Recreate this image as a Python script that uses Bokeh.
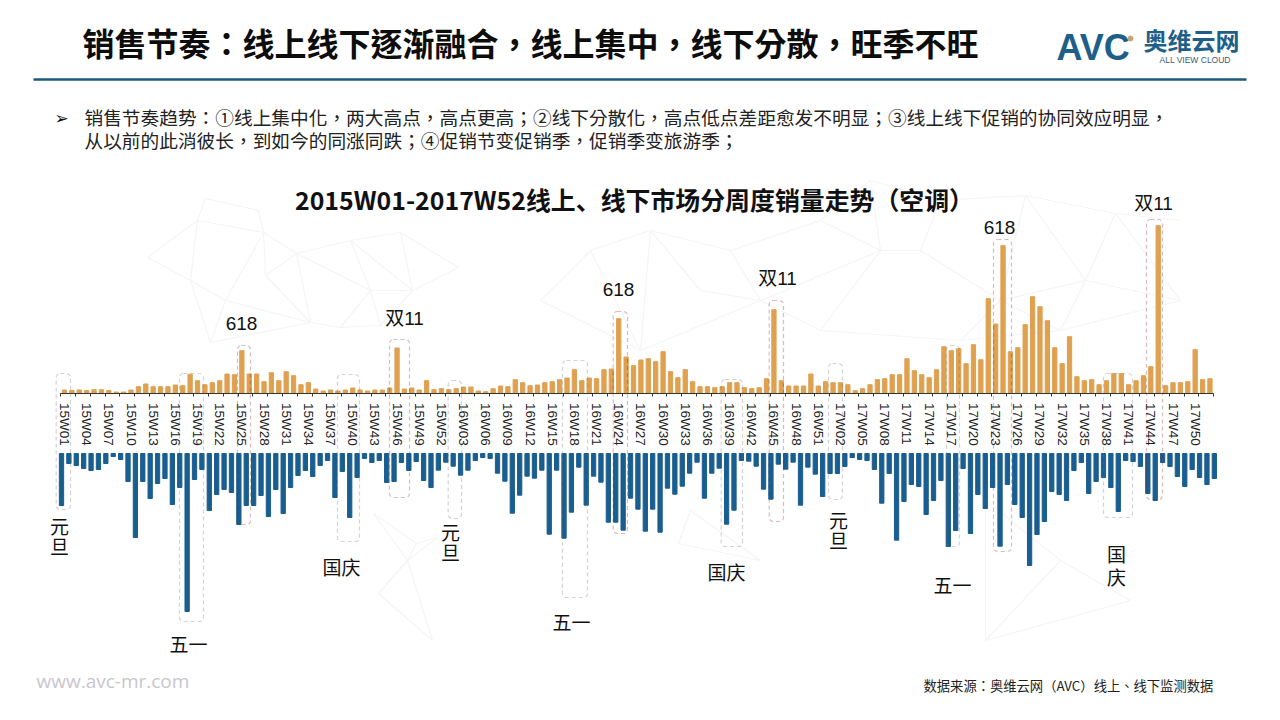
import math
from bokeh.core.properties import value
from bokeh.embed import file_html
from bokeh.models import BoxAnnotation, FixedTicker, LinearAxis, Range1d
from bokeh.plotting import figure
from bokeh.resources import INLINE

# week labels shown on the axis (every third week)
years = ["15", "16", "17"]
weeks = [f"{y}W{w:02d}" for y in years for w in range(1, 53)]

online_sales = [
    3, 2.5, 3, 2.5, 3.3, 3.3, 2.5, 1, 1, 3, 6.3, 9, 6.3, 6.3, 6.3, 8, 7.3, 18.7, 12.3, 8.3,
    10.3, 12.3, 19, 18.3, 42.3, 19, 19, 11.3, 20.3, 12.3, 21.3, 17.3, 8.3, 10.3, 4, 2, 3, 2, 3, 5,
    3, 2, 3, 3, 5, 45, 4, 5, 3, 12.3, 3.3, 4.3, 3.3, 4.3, 6, 6, 2, 1.3, 4.3, 7,
    6.3, 13.3, 10.3, 7.3, 8, 10.3, 11.3, 13.3, 15, 23.3, 12.3, 15, 14.3, 23.3, 24, 74.3, 36, 27.3, 33, 34.3,
    31.3, 41.3, 21.3, 15.3, 23.3, 11.3, 6.3, 6.3, 5.3, 6.3, 10.3, 10.3, 5.3, 4.3, 5.3, 14.3, 83.3, 12.3, 7, 7,
    7, 19, 7, 11.3, 10.3, 10.3, 8.3, 2.3, 4.3, 8.3, 13.3, 14.3, 18.3, 18.3, 34.3, 22.3, 18.3, 15.3, 23.3, 46.3,
    42.3, 44.3, 29.3, 48.3, 33.3, 94.3, 69, 147.3, 41.3, 45.3, 68.3, 96.3, 86.3, 72.3, 45.3, 29.3, 56.3, 16.3, 12.3, 13.3,
    8.3, 12.3, 19.3, 19.3, 8.3, 12.3, 17.3, 26.3, 167.3, 7.3, 10.3, 10.3, 11.3, 43.3, 13.3, 14.3,
]
offline_sales = [
    52, 10, 12, 15, 17, 16, 10, 3, 6, 28, 84, 28, 45, 30, 25, 51, 34, 158, 26, 16,
    57, 41, 36, 39, 71, 52, 52, 42, 63, 36, 60, 34, 22, 17, 23, 12, 7, 44, 18, 64,
    24, 5, 9, 7, 29, 28, 9, 17, 8, 27, 34, 16.7, 8.7, 12.7, 21.7, 16.7, 7, 4, 5, 19.7,
    27.7, 59.7, 41.7, 22.7, 24.7, 16.7, 80.7, 16.7, 84.7, 58.7, 13.7, 51.7, 22.7, 28.7, 68.7, 68.7, 76.7, 44.7, 55.7, 77.7,
    55.7, 78.7, 34.7, 40.7, 32.7, 19.7, 8.7, 44.7, 19.7, 14.7, 70.7, 56.7, 7, 7.7, 12.7, 35.7, 45.7, 10.7, 15.7, 8.7,
    51.7, 13.7, 20.7, 43, 20, 20, 13, 4, 6, 7, 16, 49.7, 20, 86.7, 48, 31, 33, 61, 47, 27,
    93, 77, 15, 80, 41, 55, 34, 92.7, 31, 51, 64, 112, 81, 68, 38, 41, 47, 17, 9, 40,
    28, 24, 34, 58, 7, 8, 13, 40, 47, 9, 13, 23, 33, 16, 24, 31, 25,
]

slide_title = "销售节奏：线上线下逐渐融合，线上集中，线下分散，旺季不旺"
bullet_1 = "销售节奏趋势：①线上集中化，两大高点，高点更高；②线下分散化，高点低点差距愈发不明显；③线上线下促销的协同效应明显，"
bullet_2 = "从以前的此消彼长，到如今的同涨同跌；④促销节变促销季，促销季变旅游季；"
chart_title = "2015W01-2017W52线上、线下市场分周度销量走势（空调）"
source_note = "数据来源：奥维云网（AVC）线上、线下监测数据"

# event callouts: (text, x, y)
event_labels = [
    ("618", 241, 323), ("双11", 404, 318), ("618", 618, 289), ("双11", 777, 278),
    ("618", 999, 227), ("双11", 1153, 203), ("元", 59, 527), ("旦", 59, 547),
    ("五一", 188, 645), ("国庆", 341, 568), ("元", 450, 533), ("旦", 450, 553),
    ("五一", 571, 623), ("国庆", 726, 573), ("元", 838, 521), ("旦", 838, 541),
    ("五一", 952, 586), ("国", 1116, 555), ("庆", 1116, 578),
]
# dashed highlight frames: (left, right, top, bottom, kind)
event_boxes = [
    (55.7, 70, 373, 509, "g"), (179, 203, 373, 621, "g"), (237, 250, 345, 524, "r"),
    (337, 359, 374, 541, "g"), (389, 409, 339, 497, "r"), (447.7, 461, 380, 518, "g"),
    (562, 587, 360, 597, "g"), (612.7, 627, 311, 533, "r"), (720.7, 742, 379, 546, "g"),
    (768.7, 783, 300, 521, "r"), (828, 842, 363, 499, "g"), (946, 959, 345, 546, "g"),
    (993, 1011, 239, 551, "r"), (1103, 1132, 373, 517, "g"), (1146, 1162, 219, 499, "r"),
]

# faint polygon-network watermark behind the chart
net_nodes = {
    "a": (205, 198), "b": (258, 210), "c": (197, 220), "d": (147, 257), "e": (263, 232), "f": (296, 253),
    "g": (350, 240), "h": (400, 232), "i": (458, 267), "j": (190, 280), "k": (225, 300), "l": (265, 275),
    "m": (310, 322), "n": (340, 327), "o": (380, 325), "p": (412, 290), "q": (210, 342), "r": (370, 290),
    "s": (650, 230), "t": (730, 250), "u": (760, 300), "v": (640, 350), "w": (820, 220), "x": (870, 180),
    "y": (940, 200), "z": (1025, 195), "A": (1115, 213), "B": (1180, 220), "C": (880, 250), "D": (1000, 300),
    "E": (1085, 280), "F": (1060, 330), "G": (820, 330), "H": (920, 250), "I": (960, 340), "J": (1180, 300),
    "K": (373, 513), "L": (416, 543), "M": (378, 593), "N": (407, 560), "O": (437, 537), "P": (432, 640),
    "Q": (678, 543), "R": (690, 510), "S": (760, 560), "T": (985, 500), "U": (1060, 560), "V": (1130, 600),
    "W": (985, 640), "X": (700, 290), "Y": (590, 250), "Z": (540, 300),
}
net_edges = [
    "ab", "ac", "cd", "be", "ce", "ef", "fg", "gh", "hi", "dj", "cj", "jk", "ek", "el", "lf", "fm", "lm", "km",
    "kq", "jq", "qm", "mn", "no", "op", "pi", "hp", "gr", "rp", "fr", "rn", "ro", "gp", "st", "tu", "sX", "Xu",
    "uG", "vu", "sv", "tw", "wx", "xy", "yz", "zA", "AB", "wC", "xC", "yH", "CH", "HD", "zD", "DE", "zE", "EA",
    "EF", "DF", "GC", "GI", "ID", "uC", "IF", "FJ", "EJ", "AJ", "KL", "KN", "LN", "LO", "NM", "NO", "MP", "NP",
    "QR", "RS", "QS", "TU", "UV", "TW", "UW", "WV", "Ys", "YZ", "Zv", "Yv",
]

BAR_ORANGE = "#DFA050"
BAR_BLUE = "#1A5E90"
TITLE_BLUE = "#1E5F8A"
CJK = "Noto Sans CJK SC"
CJK_TC = "Noto Sans CJK TC"
LATIN_CJK = "Liberation Sans, Noto Sans CJK SC"

WIDTH, HEIGHT = 1264, 704
PAD = 0  # the figure's corner sits at the top left of the picture
STEP = 7.39
ON_X0, OFF_X0 = 64.0, 61.0
ON_Y0, OFF_Y0 = 392.5, 453.0

p = figure(
    width=WIDTH, height=HEIGHT, output_backend="svg", toolbar_location=None,
    x_range=Range1d(PAD, PAD + WIDTH), y_range=Range1d(PAD + HEIGHT, PAD),
    min_border=0, min_border_left=0, min_border_right=0, min_border_top=0, min_border_bottom=0,
    x_axis_type=None, y_axis_type=None, outline_line_color=None,
)
p.grid.visible = False
p.background_fill_color = "white"
p.border_fill_color = "white"

p.extra_x_ranges = {
    "on_x": Range1d((PAD - ON_X0) / STEP, (PAD + WIDTH - ON_X0) / STEP),
    "off_x": Range1d((PAD - OFF_X0) / STEP, (PAD + WIDTH - OFF_X0) / STEP),
}
p.extra_y_ranges = {
    "on_y": Range1d(ON_Y0 - PAD - HEIGHT, ON_Y0 - PAD),
    "off_y": Range1d(PAD + HEIGHT - OFF_Y0, PAD - OFF_Y0),
}

# watermark
p.multi_line(
    xs=[[net_nodes[e[0]][0], net_nodes[e[1]][0]] for e in net_edges],
    ys=[[net_nodes[e[0]][1], net_nodes[e[1]][1]] for e in net_edges],
    line_color="#f5f4f6", line_width=1.2, level="underlay",
)


def put(txt, x, y, size, color="#111111", font=CJK, bold=False, align="center"):
    p.text(
        x=[x], y=[y], text=[txt], text_font=value(font), text_font_size=f"{size}px",
        text_color=color, text_align=align, text_baseline="middle",
        text_font_style="bold" if bold else "normal",
    )


# header
put(slide_title, 82, 41, 32, bold=True, align="left", font=CJK_TC, color="#0d0d0d")
p.line(x=[33, 1246], y=[79, 79], line_color="#1C5A7C", line_width=2.6)

# logo
put("AVC", 1056, 47, 36, color=TITLE_BLUE, font="Liberation Sans", bold=True, align="left")
p.scatter(x=[1130], y=[38], size=5, color="#C9A36B")
put("奥维云网", 1143, 39, 24, color=TITLE_BLUE, bold=True, align="left")
put("ALL VIEW CLOUD", 1159, 59, 8.5, color="#3c5a73", font="Liberation Sans", align="left")

# bullet text
put("➢", 54, 117, 17, font="DejaVu Sans", align="left")
put(bullet_1, 84, 116, 18.7, color="#222222", font=CJK_TC, align="left")
put(bullet_2, 84, 139, 18.7, color="#222222", font=CJK_TC, align="left")

put(chart_title, 634, 198, 24.9, bold=True)

# bars
p.vbar(x=list(range(len(online_sales))), top=online_sales, bottom=0, width=0.58,
       color=BAR_ORANGE, x_range_name="on_x", y_range_name="on_y")
p.vbar(x=list(range(len(offline_sales))), top=offline_sales, bottom=0, width=0.58,
       color=BAR_BLUE, x_range_name="off_x", y_range_name="off_y")

# week axis
tick_weeks = list(range(0, len(weeks), 3))
axis = LinearAxis(
    x_range_name="on_x", fixed_location=ON_Y0,
    ticker=FixedTicker(ticks=tick_weeks, minor_ticks=[i - 0.5 for i in range(0, len(weeks) + 1, 2)]),
    major_label_overrides={i: weeks[i] for i in tick_weeks},
    major_label_orientation=-math.pi / 2,
    major_label_text_font="Liberation Sans", major_label_text_font_size="13.5px",
    major_label_text_color="#222222", major_label_standoff=7,
    major_tick_in=0, major_tick_out=0, minor_tick_in=0, minor_tick_out=3,
    minor_tick_line_color="#333333", axis_line_color="#333333", axis_line_width=1.2,
    bounds=(-0.5, len(weeks) - 0.5),
)
p.add_layout(axis, "below")

# highlight frames
BOX_COLORS = {"g": "#6f6a70", "r": "#8a1826"}
for left, right, top, bottom, kind in event_boxes:
    p.add_layout(BoxAnnotation(
        left=left, right=right, top=top, bottom=bottom, fill_alpha=0,
        line_color=BOX_COLORS[kind], line_width=1.2, line_dash="4 3", border_radius=4,
    ))

# event labels
for txt, x, y in event_labels:
    put(txt, x, y, 19, font=LATIN_CJK)

# footer
put(source_note, 923, 685, 13.3, color="#222222", font=CJK_TC, align="left")
put("www.avc-mr.com", 36, 680, 19, color="#c9c6ce", font="Open Sans", align="left")

open("out.html", "w").write(file_html(p, INLINE))
